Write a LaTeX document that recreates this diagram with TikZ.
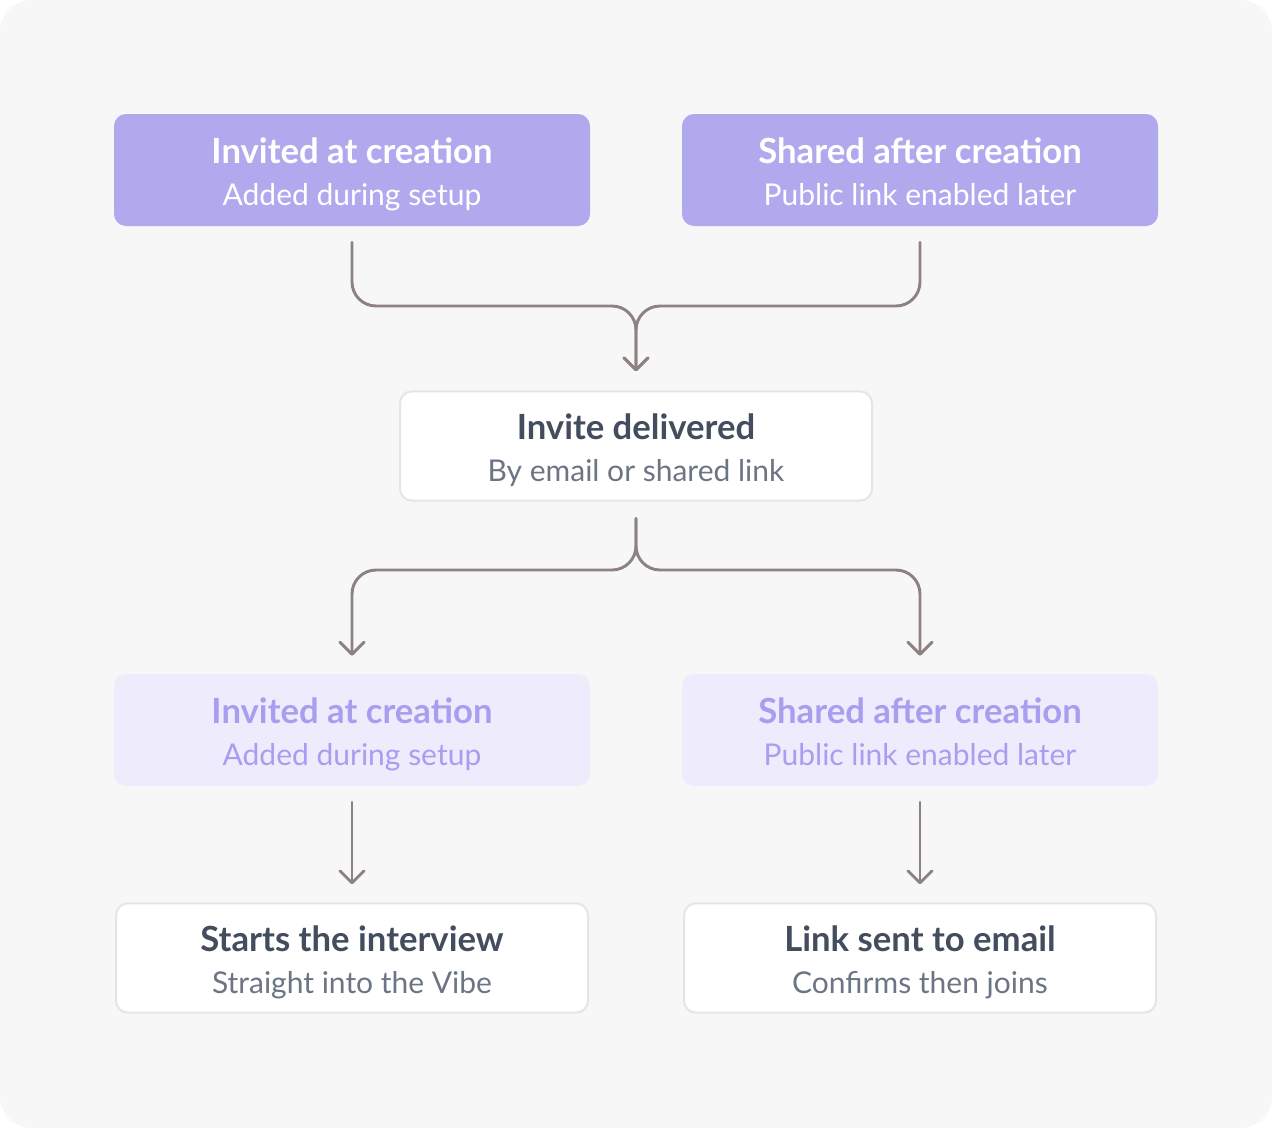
\documentclass[tikz,border=0pt]{standalone}
\usepackage{fontspec}
\setmainfont{Lato}
\usetikzlibrary{arrows.meta,calc}
\definecolor{bgc}{HTML}{F7F7F7}
\definecolor{purp}{HTML}{B1A9EE}
\definecolor{lpurp}{HTML}{EEECFC}
\definecolor{lptext}{HTML}{A89EF0}
\definecolor{dtext}{HTML}{434D5E}
\definecolor{stext}{HTML}{6B7585}
\definecolor{bord}{HTML}{E3E5E9}
\definecolor{linec}{HTML}{8D8181}
\tikzset{
  box/.style={rectangle, rounded corners=9pt, minimum width=357pt, minimum height=84pt, align=center, inner sep=0pt, font=\fontsize{22.5}{31.5}\selectfont},
  solidbox/.style={box, fill=purp, text=white},
  lightbox/.style={box, fill=lpurp, text=lptext},
  whitebox/.style={box, fill=white, draw=bord, line width=1.5pt},
  conn/.style={draw=linec, line width=2.2pt, rounded corners=18pt, line cap=round, line join=round},
  arr/.style={conn, -{Straight Barb[length=9pt,width=18pt,line width=2.2pt, round]}},
}
\newcommand{\ttl}[1]{{\fontsize{26}{31.5}\selectfont\bfseries\rule{0pt}{27pt}#1}}
\newcommand{\sbt}[1]{{\fontsize{22.5}{31.5}\selectfont #1\rule[-6pt]{0pt}{6pt}}}
\begin{document}
\begin{tikzpicture}[x=0.75pt,y=-0.75pt]
\useasboundingbox (0,0) rectangle (1272,1128);
\fill[white] (0,0) rectangle (1272,1128);
\fill[bgc, rounded corners=24pt] (0,0) rectangle (1272,1128);

\node[solidbox] (t1) at (352,170) {\ttl{Invited at creation}\\\sbt{Added during setup}};
\node[solidbox] (t2) at (920,170) {\ttl{Shared after creation}\\\sbt{Public link enabled later}};
\node[whitebox, minimum width=354pt, minimum height=82pt] (mid) at (636,446) {\color{dtext}\ttl{Invite delivered}\\\color{stext}\sbt{By email or shared link}};
\node[lightbox] (l1) at (352,730) {\ttl{Invited at creation}\\\sbt{Added during setup}};
\node[lightbox] (l2) at (920,730) {\ttl{Shared after creation}\\\sbt{Public link enabled later}};
\node[whitebox, minimum width=354pt, minimum height=82pt] (b1) at (352,958) {\color{dtext}\ttl{Starts the interview}\\\color{stext}\sbt{Straight into the Vibe}};
\node[whitebox, minimum width=354pt, minimum height=82pt] (b2) at (920,958) {\color{dtext}\ttl{Link sent to email}\\\color{stext}\sbt{Confirms then joins}};

\coordinate (j1) at (636,306);
\coordinate (j2) at (636,570);

\draw[arr] ($(t1.south)+(0,16)$) |- (j1) -- ($(mid.north)+(0,-19)$);
\draw[arr] ($(t2.south)+(0,16)$) |- (j1) -- ($(mid.north)+(0,-19)$);
\draw[arr] ($(mid.south)+(0,17)$) -- (j2) -| ($(l1.north)+(0,-18)$);
\draw[arr] ($(mid.south)+(0,17)$) -- (j2) -| ($(l2.north)+(0,-18)$);
\draw[arr] ($(l1.south)+(0,16)$) -- ($(b1.north)+(0,-18)$);
\draw[arr] ($(l2.south)+(0,16)$) -- ($(b2.north)+(0,-18)$);
\end{tikzpicture}
\end{document}
